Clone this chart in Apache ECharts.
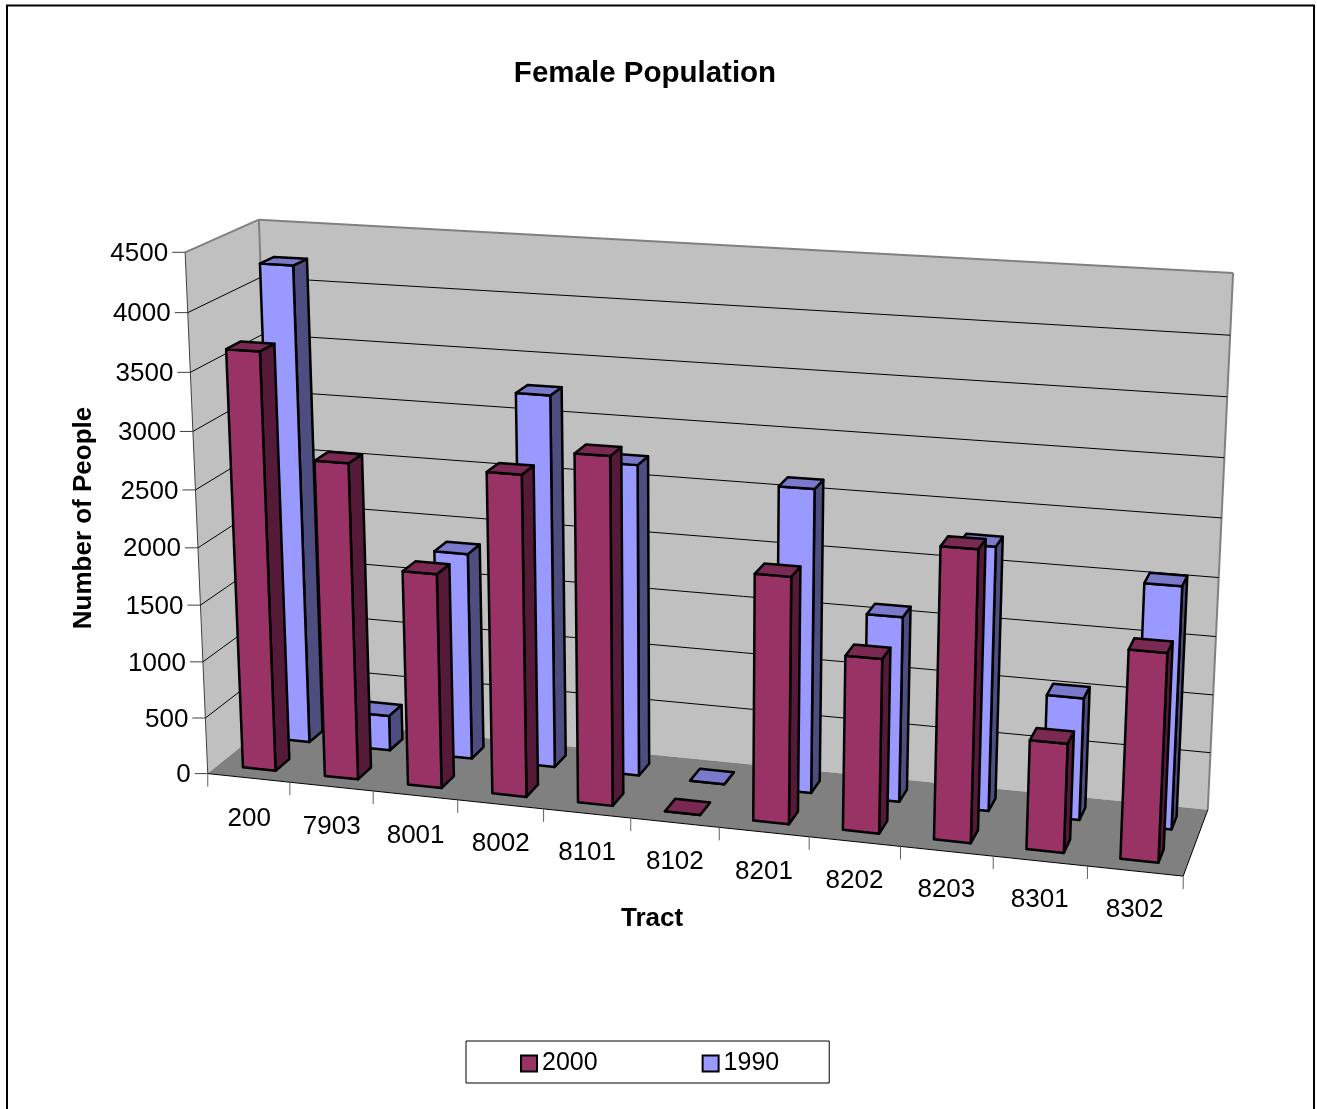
<!DOCTYPE html>
<html>
<head>
<meta charset="utf-8">
<title>Female Population</title>
<script src="https://cdn.jsdelivr.net/npm/echarts@6/dist/echarts.min.js"></script>
<style>html,body{margin:0;padding:0;background:#fff}#chart{width:1317px;height:1109px}</style>
</head>
<body>
<div id="chart"></div>
<script>
// Census tracts and female head counts per census year
var categories = ['200','7903','8001','8002','8101','8102','8201','8202','8203','8301','8302'];
var values2000 = [3660,2765,1875,2780,2990,0,2105,1486,2456,920,1742];
var values1990 = [4232,315,1835,3265,2724,0,2633,1605,2267,1050,2062];
var yTicks = [0,500,1000,1500,2000,2500,3000,3500,4000,4500];

var FONT = '"Liberation Sans", Arial, sans-serif';
var DEPTH_ROWS = {front:[0.15,0.35], back:[0.65,0.85]};
var BAR_HALF = 0.2;

// Reference points of the plot box: [along tracts, height, depth] -> page pixel
var BOX = [
  [[0,0,0],[209,774]], [[0,1,0],[184,252]], [[0,1,1],[260,220]], [[0,0,1],[276,717]],
  [[1,1,1],[1233,273]], [[1,0,1],[1208,810]], [[1,0,0],[1183,876]]
];

// Least-squares fit of a 3x4 perspective camera through the reference points
function fitCamera(pts){
  var n = 11, A = [], b = [], i, j, k;
  for (i = 0; i < n; i++){ A.push(new Array(n).fill(0)); b.push(0); }
  function add(row, rhs){
    for (var r = 0; r < n; r++){
      for (var c = 0; c < n; c++) A[r][c] += row[r]*row[c];
      b[r] += row[r]*rhs;
    }
  }
  pts.forEach(function(p){
    var X=p[0][0],Y=p[0][1],Z=p[0][2],x=p[1][0],y=p[1][1];
    add([X,Y,Z,1,0,0,0,0,-x*X,-x*Y,-x*Z],x);
    add([0,0,0,0,X,Y,Z,1,-y*X,-y*Y,-y*Z],y);
  });
  for (i = 0; i < n; i++){
    var m = i;
    for (k = i+1; k < n; k++) if (Math.abs(A[k][i]) > Math.abs(A[m][i])) m = k;
    var t = A[i]; A[i] = A[m]; A[m] = t; t = b[i]; b[i] = b[m]; b[m] = t;
    for (k = i+1; k < n; k++){
      var f = A[k][i]/A[i][i];
      for (j = i; j < n; j++) A[k][j] -= f*A[i][j];
      b[k] -= f*b[i];
    }
  }
  var s = new Array(n);
  for (i = n-1; i >= 0; i--){
    var v = b[i];
    for (j = i+1; j < n; j++) v -= A[i][j]*s[j];
    s[i] = v/A[i][i];
  }
  return s;
}
var cam = fitCamera(BOX);
function project(u,h,z){
  var w = cam[8]*u + cam[9]*h + cam[10]*z + 1;
  return [(cam[0]*u+cam[1]*h+cam[2]*z+cam[3])/w, (cam[4]*u+cam[5]*h+cam[6]*z+cam[7])/w];
}

// Normalised position of a data point on the hidden cartesian axes
function norm(params, api, cat, val){
  var s = params.coordSys, c = api.coord([cat, val]);
  return [(c[0]-s.x)/s.width, 1-(c[1]-s.y)/s.height];
}

function poly(points, fill, stroke, lw){
  return {type:'polygon', shape:{points:points}, silent:true,
    style:{fill:fill, stroke:stroke||null, lineWidth:lw||0, lineJoin:'round'}};
}
function seg(a,b,color,lw){
  return {type:'line', shape:{x1:a[0],y1:a[1],x2:b[0],y2:b[1]}, silent:true,
    style:{stroke:color, lineWidth:lw||1}};
}
function label(text,x,y,align){
  return {type:'text', silent:true, style:{text:text,x:x,y:y,align:align,verticalAlign:'middle',
    font:'26px '+FONT, fill:'#000'}};
}

// One 3D column: hidden faces skipped, front / side / top drawn
function barRenderer(row, front, top, side){
  return function(params, api){
    var cat = api.value(0), val = api.value(1);
    var p = norm(params, api, cat, val), p0 = norm(params, api, cat, 0);
    var band = api.size([1,0])[0]/params.coordSys.width;
    var u0 = p[0]-band*BAR_HALF, u1 = p[0]+band*BAR_HALF;
    var z0 = row[0], z1 = row[1], h = p[1], b = p0[1];
    return {type:'group', children:[
      poly([project(u1,b,z0),project(u1,b,z1),project(u1,h,z1),project(u1,h,z0)], side, '#000', 2.5),
      poly([project(u0,b,z0),project(u1,b,z0),project(u1,h,z0),project(u0,h,z0)], front, '#000', 2.5),
      poly([project(u0,h,z0),project(u1,h,z0),project(u1,h,z1),project(u0,h,z1)], top, '#000', 2.5)
    ]};
  };
}

// Walls and floor of the plot box
function renderBox(){
  var A=project(0,0,0),B=project(0,1,0),C=project(0,1,1),D=project(0,0,1),
      E=project(1,1,1),F=project(1,0,1),G=project(1,0,0);
  return {type:'group', children:[
    poly([A,B,C,D],'#c0c0c0'),
    poly([D,C,E,F],'#c0c0c0'),
    poly([A,D,F,G],'#808080'),
    seg(D,C,'#808080',2), seg(C,E,'#808080',2), seg(E,F,'#808080',2), seg(B,C,'#808080',2),
    seg(A,B,'#404040',1), seg(A,G,'#000',1), seg(G,F,'#000',1)
  ]};
}

// Gridlines on both walls, tick marks and labels of the value axis
function renderValueTick(params, api){
  var val = api.value(0);
  var h = norm(params, api, 0, val)[1];
  var a = project(0,h,0), b = project(0,h,1), c = project(1,h,1);
  var kids = [label(String(val), a[0]-17, a[1]+1.5, 'right'), seg([a[0]-13,a[1]],a,'#404040',1)];
  if (val > 0 && val < 4500){ kids.push(seg(a,b,'#000',1), seg(b,c,'#000',1)); }
  return {type:'group', children:kids};
}

// Tick marks and labels of the tract axis
function renderTractTick(params, api){
  var i = api.value(0);
  var band = api.size([1,0])[0]/params.coordSys.width;
  var uc = norm(params, api, i, 0)[0];
  var l = project(uc-band/2,0,0), m = project(uc,0,0);
  var kids = [seg(l,[l[0],l[1]+13],'#606060',1),
    label(categories[i], m[0]+0.5-0.1*i, m[1]+40.5-0.2*i, 'center')];
  if (i === categories.length-1){
    var r = project(uc+band/2,0,0);
    kids.push(seg(r,[r[0],r[1]+13],'#606060',1));
  }
  return {type:'group', children:kids};
}

function rows(values){ return values.map(function(v,i){ return [i,v]; }); }

var chart = echarts.init(document.getElementById('chart'), null, {renderer:'canvas'});
chart.setOption({
  animation:false,
  backgroundColor:'#fff',
  title:{text:'Female Population', left:645, top:74, padding:0, textAlign:'center', textVerticalAlign:'middle',
    textStyle:{fontFamily:FONT, fontSize:29.5, fontWeight:'bold', color:'#000'}},
  legend:{data:['2000','1990'], left:466, top:1041, width:363, orient:'horizontal',
    padding:[10,50,7,54], itemGap:104, itemWidth:16, itemHeight:16, icon:'rect',
    borderColor:'#000', borderWidth:1, selectedMode:false,
    itemStyle:{borderColor:'#000', borderWidth:2},
    textStyle:{fontFamily:FONT, fontSize:25, color:'#000', padding:[3,0,0,0]}},
  grid:{left:100, top:100, width:1000, height:800, show:false},
  xAxis:{type:'category', data:categories, show:false},
  yAxis:{type:'value', min:0, max:4500, interval:500, show:false},
  graphic:[
    {type:'polyline', silent:true, shape:{points:[[7,1109],[7,5.5],[1314,5.5],[1314,1109]]},
     style:{stroke:'#000', lineWidth:2, fill:null}},
    {type:'text', silent:true, x:652, y:919, style:{text:'Tract', align:'center', verticalAlign:'middle',
      font:'bold 26px '+FONT, fill:'#000'}},
    {type:'text', silent:true, x:84, y:518, rotation:Math.PI/2, style:{text:'Number of People',
      align:'center', verticalAlign:'middle', font:'bold 26px '+FONT, fill:'#000'}}
  ],
  series:[
    {type:'custom', name:'box', z:1, silent:true, data:[[0]], renderItem:renderBox},
    {type:'custom', name:'values', z:2, silent:true, data:yTicks.map(function(v){return [v];}),
     encode:{x:-1,y:0}, renderItem:renderValueTick},
    {type:'custom', name:'tracts', z:2, silent:true, data:categories.map(function(c,i){return [i];}),
     encode:{x:0,y:-1}, renderItem:renderTractTick},
    {type:'custom', name:'1990', z:3, silent:true, data:rows(values1990), encode:{x:0,y:1},
     itemStyle:{color:'#9999ff'},
     renderItem:barRenderer(DEPTH_ROWS.back,'#9999ff','#7a7acc','#4d4d80')},
    {type:'custom', name:'2000', z:4, silent:true, data:rows(values2000), encode:{x:0,y:1},
     itemStyle:{color:'#993366'},
     renderItem:barRenderer(DEPTH_ROWS.front,'#993366','#7a2952','#551a38')}
  ]
});
</script>
</body>
</html>
